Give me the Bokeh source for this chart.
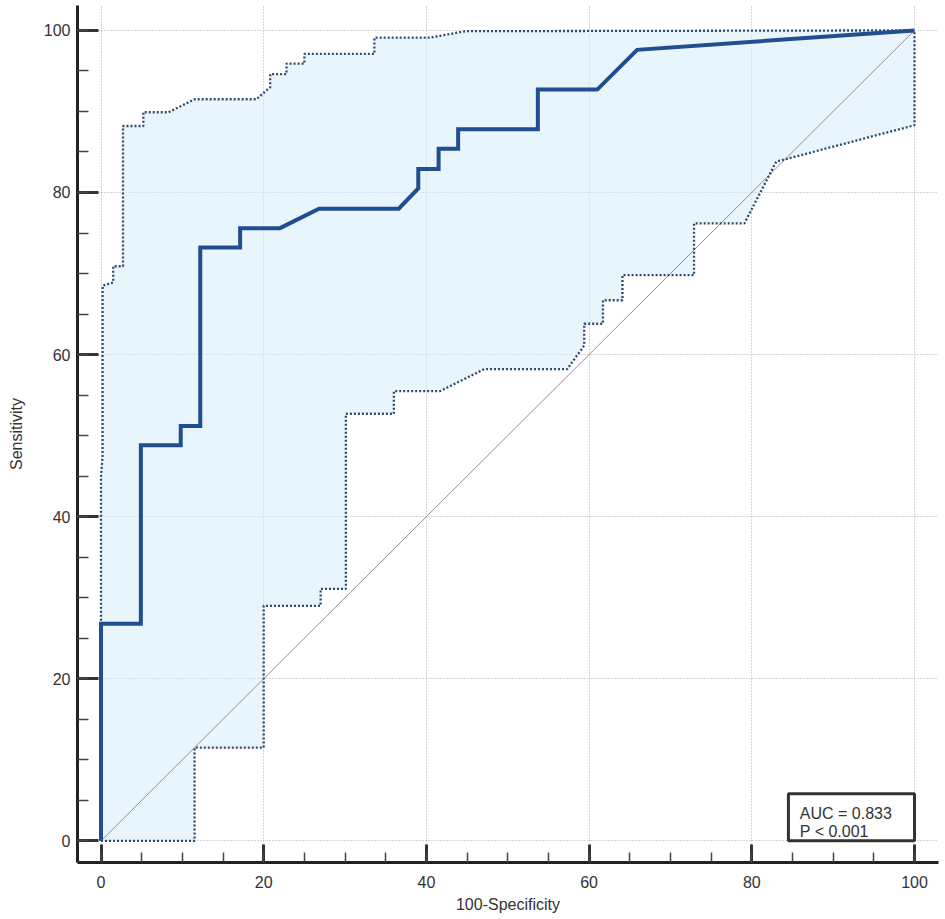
from bokeh.plotting import figure
from bokeh.models import Range1d, SingleIntervalTicker, BoxAnnotation, Label
from bokeh.embed import file_html
from bokeh.resources import INLINE

# ROC curve (100-Specificity, Sensitivity)
roc_x = [0, 0, 4.9, 4.9, 9.8, 9.8, 12.2, 12.2, 17.1, 17.1, 22.0, 26.8, 36.6, 39.0,
         39.0, 41.5, 41.5, 43.9, 43.9, 53.7, 53.7, 61.0, 65.9, 100]
roc_y = [0, 26.8, 26.8, 48.8, 48.8, 51.2, 51.2, 73.2, 73.2, 75.6, 75.6, 78.0, 78.0, 80.5,
         82.9, 82.9, 85.4, 85.4, 87.8, 87.8, 92.7, 92.7, 97.6, 100]

# Upper confidence bound
upper_x = [0, 0, 0.2, 0.2, 1.5, 1.5, 2.7, 2.7, 5.2, 5.2, 8.3, 11.5, 19.1, 20.8, 20.8,
           22.8, 22.8, 25.0, 25.0, 33.6, 33.6, 40.4, 44.8, 100]
upper_y = [0, 45.0, 47.5, 68.5, 68.9, 70.9, 70.9, 88.2, 88.2, 89.9, 89.9, 91.5, 91.5, 93.0,
           94.6, 94.6, 95.9, 95.9, 97.1, 97.1, 99.1, 99.1, 99.9, 100]

# Lower confidence bound
lower_x = [0, 11.5, 11.5, 20.0, 20.0, 27.0, 27.0, 30.1, 30.1, 36.0, 36.0, 41.7, 47.1,
           57.3, 59.4, 59.4, 61.7, 61.7, 64.1, 64.1, 72.9, 72.9, 79.1, 83.0, 100, 100]
lower_y = [0, 0, 11.5, 11.5, 29.0, 29.0, 31.1, 31.1, 52.7, 52.7, 55.5, 55.5, 58.2,
           58.2, 61.1, 63.8, 63.8, 66.7, 66.7, 69.8, 69.8, 76.2, 76.2, 83.8, 88.3, 100]

# Reference diagonal
diag_x = [0, 100]
diag_y = [0, 100]

auc_text = "AUC = 0.833"
p_text = "P < 0.001"

FONT = "Liberation Sans"
TXT = "#333333"

p = figure(width=940, height=915, output_backend="svg", toolbar_location=None,
           x_range=Range1d(-2.89, 102.95), y_range=Range1d(-2.67, 103.07),
           min_border_left=77, min_border_right=2, min_border_top=5, min_border_bottom=50)
p.outline_line_color = None
p.background_fill_color = "white"
p.border_fill_color = "white"

# Confidence band fill
band_x = upper_x + lower_x[::-1]
band_y = upper_y + lower_y[::-1]
p.patch(band_x, band_y, fill_color="#d6ecfc", fill_alpha=0.55, line_color=None)

# Diagonal
p.line(diag_x, diag_y, line_color="#9b8a94", line_width=1)

# Bounds
p.line(upper_x, upper_y, line_color="#2f4a6e", line_width=2.3, line_dash="2 2")
p.line(lower_x, lower_y, line_color="#2f4a6e", line_width=2.3, line_dash="2 2")

# ROC curve
p.line(roc_x, roc_y, line_color="#1f4e91", line_width=4, line_join="miter")

# Axes
for ax in (p.xaxis[0], p.yaxis[0]):
    ax.ticker = SingleIntervalTicker(interval=20, num_minor_ticks=4)
    ax.axis_line_width = 3
    ax.axis_line_color = "#222222"
    ax.major_tick_out = 0
    ax.minor_tick_out = 0
    ax.major_tick_line_width = 3
    ax.major_tick_line_color = "#333333"
    ax.minor_tick_line_width = 1.5
    ax.minor_tick_line_color = "#444444"
    ax.major_label_text_font = FONT
    ax.major_label_text_font_size = "16px"
    ax.major_label_text_color = TXT
    ax.axis_label_text_font = FONT
    ax.axis_label_text_font_size = "16px"
    ax.axis_label_text_font_style = "normal"
    ax.axis_label_text_color = TXT

p.xaxis.major_tick_in = 18
p.xaxis.minor_tick_in = 10
p.yaxis.major_tick_in = 21
p.yaxis.minor_tick_in = 11
p.xaxis.major_label_standoff = 13
p.yaxis.major_label_standoff = 7
p.xaxis.axis_label = "100-Specificity"
p.yaxis.axis_label = "Sensitivity"
p.xaxis.axis_label_standoff = 5
p.yaxis.axis_label_standoff = 16

for g in (p.xgrid[0], p.ygrid[0]):
    g.grid_line_color = "#aaaaaa"
    g.grid_line_dash = "1 2"
    g.grid_line_width = 1

# AUC box
box = BoxAnnotation(left=84.5, right=100, bottom=0, top=5.8, fill_color="white",
                    fill_alpha=1.0, line_color="#333333", line_alpha=1.0, line_width=3)
p.add_layout(box)
p.add_layout(Label(x=85.9, y=3.42, text=auc_text, text_font=FONT, text_font_size="16px",
                   text_color=TXT, text_baseline="alphabetic"))
p.add_layout(Label(x=85.9, y=1.14, text=p_text, text_font=FONT, text_font_size="16px",
                   text_color=TXT, text_baseline="alphabetic"))

open("out.html", "w").write(file_html(p, INLINE))
